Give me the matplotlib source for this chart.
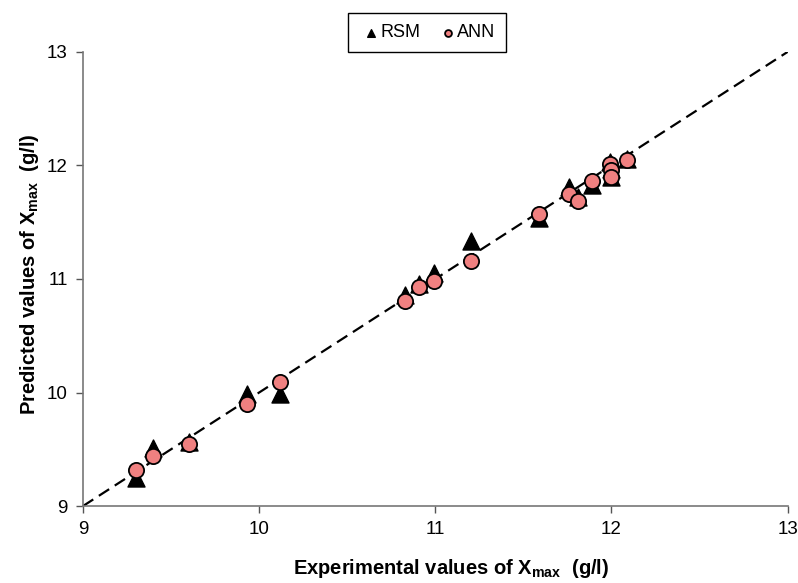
import numpy as np
import matplotlib
matplotlib.use("Agg")
import matplotlib.pyplot as plt

plt.rcParams['font.family'] = ['Liberation Sans', 'DejaVu Sans']
plt.rcParams['mathtext.fontset'] = 'custom'
plt.rcParams['mathtext.rm'] = 'Liberation Sans'
plt.rcParams['mathtext.bf'] = 'Liberation Sans:bold'

# experimental vs predicted Xmax (g/l)
experimental = [9.30, 9.40, 9.60, 9.93, 10.12, 10.83, 10.91, 10.99, 11.20,
                11.59, 11.76, 11.81, 11.89, 11.99, 12.00, 12.00, 12.09]
rsm = [9.25, 9.51, 9.56, 9.99, 9.99, 10.86, 10.96, 11.05, 11.33,
       11.54, 11.81, 11.72, 11.83, 12.03, 11.97, 11.90, 12.06]
ann = [9.32, 9.44, 9.55, 9.90, 10.09, 10.81, 10.93, 10.98, 11.16,
       11.57, 11.75, 11.69, 11.86, 12.01, 11.96, 11.90, 12.05]
ticks = [9, 10, 11, 12, 13]

fig = plt.figure(figsize=(7.98, 5.83), dpi=100)
ax = fig.add_axes([0.104, 0.132, 0.883, 0.779])

ax.plot([9, 13], [9, 13], color='black', linestyle=(0, (5.5, 3)), linewidth=1.6, zorder=1)
ax.scatter(experimental, rsm, marker='^', s=150, color='black', label='RSM', zorder=2)
ax.scatter(experimental, ann, marker='o', s=120, facecolor='#F08080', edgecolor='black',
           linewidth=1.3, label='ANN', zorder=3)

ax.set_xlim(9, 13)
ax.set_ylim(9, 13)
ax.set_xticks(ticks)
ax.set_yticks(ticks)
ax.tick_params(direction='out', length=5, width=1, labelsize=13.5, pad=6, color='#555555')
for s in ['top', 'right']:
    ax.spines[s].set_visible(False)
for s in ['left', 'bottom']:
    ax.spines[s].set_color('#777777')
    ax.spines[s].set_linewidth(1.2)

ax.set_xlabel(r'Experimental values of $\mathbf{X_{max}}$  (g/l)', fontsize=14.5,
              fontweight='bold')
ax.set_ylabel(r'Predicted values of $\mathbf{X_{max}}$  (g/l)', fontsize=14.5,
              fontweight='bold')
ax.xaxis.set_label_coords(0.523, -0.112)
ax.yaxis.set_label_coords(-0.06, 0.51)

leg = ax.legend(loc='center', bbox_to_anchor=(0.488, 1.042), ncol=2, fontsize=13,
                markerscale=0.45, handletextpad=-0.2, columnspacing=0.8, handlelength=1.4,
                fancybox=False, edgecolor='black', framealpha=1, borderpad=0.6)
leg.get_frame().set_linewidth(1.0)

fig.savefig('out.png', dpi=100)
